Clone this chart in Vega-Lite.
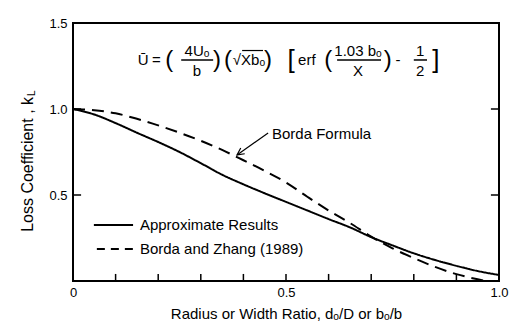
{
  "$schema": "https://vega.github.io/schema/vega-lite/v6.json",
  "width": 426,
  "height": 258,
  "autosize": {"type": "none"},
  "padding": {"left": 73, "top": 23, "right": 21, "bottom": 52},
  "background": "white",
  "data": {"values": [{}]},
  "config": {
    "view": {"stroke": "black", "strokeWidth": 2},
    "font": "Liberation Sans",
    "axis": {"labelColor": "black", "tickColor": "black", "titleColor": "black", "labelFont": "Liberation Sans", "titleFont": "Liberation Sans", "grid": false, "domain": false}
  },
  "resolve": {"axis": {"x": "independent", "y": "independent"}},
  "layer": [
    {
      "data": {"values": [
        {"series": "Approximate Results", "x": 0, "kL": 1.0},
        {"series": "Approximate Results", "x": 0.05, "kL": 0.968},
        {"series": "Approximate Results", "x": 0.1, "kL": 0.918},
        {"series": "Approximate Results", "x": 0.15, "kL": 0.862},
        {"series": "Approximate Results", "x": 0.2, "kL": 0.808},
        {"series": "Approximate Results", "x": 0.25, "kL": 0.75},
        {"series": "Approximate Results", "x": 0.3, "kL": 0.685},
        {"series": "Approximate Results", "x": 0.35, "kL": 0.618},
        {"series": "Approximate Results", "x": 0.4, "kL": 0.562},
        {"series": "Approximate Results", "x": 0.45, "kL": 0.51},
        {"series": "Approximate Results", "x": 0.5, "kL": 0.46},
        {"series": "Approximate Results", "x": 0.55, "kL": 0.41},
        {"series": "Approximate Results", "x": 0.6, "kL": 0.36},
        {"series": "Approximate Results", "x": 0.65, "kL": 0.312},
        {"series": "Approximate Results", "x": 0.7, "kL": 0.255},
        {"series": "Approximate Results", "x": 0.75, "kL": 0.207},
        {"series": "Approximate Results", "x": 0.8, "kL": 0.161},
        {"series": "Approximate Results", "x": 0.85, "kL": 0.122},
        {"series": "Approximate Results", "x": 0.9, "kL": 0.088},
        {"series": "Approximate Results", "x": 0.95, "kL": 0.058},
        {"series": "Approximate Results", "x": 1.0, "kL": 0.035},
        {"series": "Borda and Zhang (1989)", "x": 0, "kL": 1.0},
        {"series": "Borda and Zhang (1989)", "x": 0.05, "kL": 0.993},
        {"series": "Borda and Zhang (1989)", "x": 0.1, "kL": 0.975},
        {"series": "Borda and Zhang (1989)", "x": 0.15, "kL": 0.943},
        {"series": "Borda and Zhang (1989)", "x": 0.2, "kL": 0.905},
        {"series": "Borda and Zhang (1989)", "x": 0.25, "kL": 0.862},
        {"series": "Borda and Zhang (1989)", "x": 0.3, "kL": 0.815},
        {"series": "Borda and Zhang (1989)", "x": 0.35, "kL": 0.762},
        {"series": "Borda and Zhang (1989)", "x": 0.4, "kL": 0.702},
        {"series": "Borda and Zhang (1989)", "x": 0.45, "kL": 0.64},
        {"series": "Borda and Zhang (1989)", "x": 0.5, "kL": 0.573},
        {"series": "Borda and Zhang (1989)", "x": 0.55, "kL": 0.49},
        {"series": "Borda and Zhang (1989)", "x": 0.6, "kL": 0.41},
        {"series": "Borda and Zhang (1989)", "x": 0.65, "kL": 0.337},
        {"series": "Borda and Zhang (1989)", "x": 0.7, "kL": 0.258},
        {"series": "Borda and Zhang (1989)", "x": 0.75, "kL": 0.19},
        {"series": "Borda and Zhang (1989)", "x": 0.8, "kL": 0.133},
        {"series": "Borda and Zhang (1989)", "x": 0.85, "kL": 0.082},
        {"series": "Borda and Zhang (1989)", "x": 0.9, "kL": 0.04},
        {"series": "Borda and Zhang (1989)", "x": 0.95, "kL": 0.01},
        {"series": "Borda and Zhang (1989)", "x": 0.97, "kL": 0.0}
      ]},
      "mark": {"type": "line", "color": "black", "strokeWidth": 2, "clip": true, "interpolate": "monotone"},
      "encoding": {
        "x": {"field": "x", "type": "quantitative", "scale": {"domain": [0, 1], "nice": false},
          "axis": {"orient": "bottom", "values": [0, 0.5, 1.0],
            "labelExpr": "datum.value == 0 ? '0' : format(datum.value, '.1f')",
            "ticks": false, "tickSize": 0, "labelPadding": 5, "labelFontSize": 13, "labelFlush": false,
            "title": "Radius or Width Ratio, dₒ/D or bₒ/b", "titleFontSize": 15, "titleFontWeight": "normal", "titlePadding": 7}},
        "y": {"field": "kL", "type": "quantitative", "scale": {"domain": [0, 1.5], "nice": false},
          "axis": {"orient": "left", "values": [0.5, 1.0, 1.5], "format": ".1f", "ticks": false, "tickSize": 0, "labelPadding": 6, "labelFontSize": 13, "title": null}},
        "strokeDash": {"field": "series", "type": "nominal", "scale": {"domain": ["Approximate Results", "Borda and Zhang (1989)"], "range": [[1, 0], [12, 7]]}, "legend": null}
      }
    },
    {"mark": {"type": "rule", "color": "black", "strokeWidth": 1.5}, "encoding": {"x": {"datum": 0.1, "axis": null}, "y": {"datum": 0, "axis": null}, "y2": {"datum": 0.041}}},
    {"mark": {"type": "rule", "color": "black", "strokeWidth": 1.5}, "encoding": {"x": {"datum": 0.2, "axis": null}, "y": {"datum": 0, "axis": null}, "y2": {"datum": 0.041}}},
    {"mark": {"type": "rule", "color": "black", "strokeWidth": 1.5}, "encoding": {"x": {"datum": 0.3, "axis": null}, "y": {"datum": 0, "axis": null}, "y2": {"datum": 0.041}}},
    {"mark": {"type": "rule", "color": "black", "strokeWidth": 1.5}, "encoding": {"x": {"datum": 0.4, "axis": null}, "y": {"datum": 0, "axis": null}, "y2": {"datum": 0.041}}},
    {"mark": {"type": "rule", "color": "black", "strokeWidth": 1.5}, "encoding": {"x": {"datum": 0.5, "axis": null}, "y": {"datum": 0, "axis": null}, "y2": {"datum": 0.041}}},
    {"mark": {"type": "rule", "color": "black", "strokeWidth": 1.5}, "encoding": {"x": {"datum": 0.6, "axis": null}, "y": {"datum": 0, "axis": null}, "y2": {"datum": 0.041}}},
    {"mark": {"type": "rule", "color": "black", "strokeWidth": 1.5}, "encoding": {"x": {"datum": 0.7, "axis": null}, "y": {"datum": 0, "axis": null}, "y2": {"datum": 0.041}}},
    {"mark": {"type": "rule", "color": "black", "strokeWidth": 1.5}, "encoding": {"x": {"datum": 0.8, "axis": null}, "y": {"datum": 0, "axis": null}, "y2": {"datum": 0.041}}},
    {"mark": {"type": "rule", "color": "black", "strokeWidth": 1.5}, "encoding": {"x": {"datum": 0.9, "axis": null}, "y": {"datum": 0, "axis": null}, "y2": {"datum": 0.041}}},
    {"mark": {"type": "rule", "color": "black", "strokeWidth": 1.5}, "encoding": {"x": {"datum": 0, "axis": null}, "x2": {"datum": 0.019}, "y": {"datum": 0.5, "axis": null}}},
    {"mark": {"type": "rule", "color": "black", "strokeWidth": 1.5}, "encoding": {"x": {"datum": 0, "axis": null}, "x2": {"datum": 0.019}, "y": {"datum": 1.0, "axis": null}}},
    {"mark": {"type": "rule", "color": "black", "strokeWidth": 1.5}, "encoding": {"x": {"datum": 0.981, "axis": null}, "x2": {"datum": 1.0}, "y": {"datum": 0.5, "axis": null}}},
    {"mark": {"type": "rule", "color": "black", "strokeWidth": 1.5}, "encoding": {"x": {"datum": 0.981, "axis": null}, "x2": {"datum": 1.0}, "y": {"datum": 1.0, "axis": null}}},
    {"mark": {"type": "text", "align": "center", "baseline": "middle", "fontSize": 15, "text": "Ū"}, "encoding": {"x": {"datum": 0.165, "axis": null}, "y": {"datum": 1.285, "axis": null}}},
    {"mark": {"type": "text", "align": "center", "baseline": "middle", "fontSize": 15, "text": "="}, "encoding": {"x": {"datum": 0.196, "axis": null}, "y": {"datum": 1.285, "axis": null}}},
    {"mark": {"type": "text", "align": "center", "baseline": "middle", "fontSize": 24, "text": "("}, "encoding": {"x": {"datum": 0.226, "axis": null}, "y": {"datum": 1.285, "axis": null}}},
    {"mark": {"type": "text", "align": "center", "baseline": "middle", "fontSize": 15, "text": "4Uₒ"}, "encoding": {"x": {"datum": 0.291, "axis": null}, "y": {"datum": 1.337, "axis": null}}},
    {"mark": {"type": "rule", "color": "black", "strokeWidth": 1.5}, "encoding": {"x": {"datum": 0.254, "axis": null}, "x2": {"datum": 0.329}, "y": {"datum": 1.285, "axis": null}}},
    {"mark": {"type": "text", "align": "center", "baseline": "middle", "fontSize": 15, "text": "b"}, "encoding": {"x": {"datum": 0.291, "axis": null}, "y": {"datum": 1.221, "axis": null}}},
    {"mark": {"type": "text", "align": "center", "baseline": "middle", "fontSize": 24, "text": ")"}, "encoding": {"x": {"datum": 0.338, "axis": null}, "y": {"datum": 1.285, "axis": null}}},
    {"mark": {"type": "text", "align": "center", "baseline": "middle", "fontSize": 24, "text": "("}, "encoding": {"x": {"datum": 0.364, "axis": null}, "y": {"datum": 1.285, "axis": null}}},
    {"mark": {"type": "text", "align": "center", "baseline": "middle", "fontSize": 15, "text": "√Xbₒ"}, "encoding": {"x": {"datum": 0.413, "axis": null}, "y": {"datum": 1.285, "axis": null}}},
    {"mark": {"type": "rule", "color": "black", "strokeWidth": 1.2}, "encoding": {"x": {"datum": 0.397, "axis": null}, "x2": {"datum": 0.446}, "y": {"datum": 1.34, "axis": null}}},
    {"mark": {"type": "text", "align": "center", "baseline": "middle", "fontSize": 24, "text": ")"}, "encoding": {"x": {"datum": 0.458, "axis": null}, "y": {"datum": 1.285, "axis": null}}},
    {"mark": {"type": "text", "align": "center", "baseline": "middle", "fontSize": 26, "text": "["}, "encoding": {"x": {"datum": 0.512, "axis": null}, "y": {"datum": 1.285, "axis": null}}},
    {"mark": {"type": "text", "align": "center", "baseline": "middle", "fontSize": 15, "text": "erf"}, "encoding": {"x": {"datum": 0.549, "axis": null}, "y": {"datum": 1.285, "axis": null}}},
    {"mark": {"type": "text", "align": "center", "baseline": "middle", "fontSize": 24, "text": "("}, "encoding": {"x": {"datum": 0.599, "axis": null}, "y": {"datum": 1.285, "axis": null}}},
    {"mark": {"type": "text", "align": "center", "baseline": "middle", "fontSize": 15, "text": "1.03 bₒ"}, "encoding": {"x": {"datum": 0.669, "axis": null}, "y": {"datum": 1.337, "axis": null}}},
    {"mark": {"type": "rule", "color": "black", "strokeWidth": 1.5}, "encoding": {"x": {"datum": 0.62, "axis": null}, "x2": {"datum": 0.723}, "y": {"datum": 1.285, "axis": null}}},
    {"mark": {"type": "text", "align": "center", "baseline": "middle", "fontSize": 15, "text": "X"}, "encoding": {"x": {"datum": 0.669, "axis": null}, "y": {"datum": 1.221, "axis": null}}},
    {"mark": {"type": "text", "align": "center", "baseline": "middle", "fontSize": 24, "text": ")"}, "encoding": {"x": {"datum": 0.739, "axis": null}, "y": {"datum": 1.285, "axis": null}}},
    {"mark": {"type": "text", "align": "center", "baseline": "middle", "fontSize": 15, "text": "-"}, "encoding": {"x": {"datum": 0.763, "axis": null}, "y": {"datum": 1.285, "axis": null}}},
    {"mark": {"type": "text", "align": "center", "baseline": "middle", "fontSize": 15, "text": "1"}, "encoding": {"x": {"datum": 0.815, "axis": null}, "y": {"datum": 1.337, "axis": null}}},
    {"mark": {"type": "rule", "color": "black", "strokeWidth": 1.5}, "encoding": {"x": {"datum": 0.8, "axis": null}, "x2": {"datum": 0.831}, "y": {"datum": 1.285, "axis": null}}},
    {"mark": {"type": "text", "align": "center", "baseline": "middle", "fontSize": 15, "text": "2"}, "encoding": {"x": {"datum": 0.815, "axis": null}, "y": {"datum": 1.221, "axis": null}}},
    {"mark": {"type": "text", "align": "center", "baseline": "middle", "fontSize": 26, "text": "]"}, "encoding": {"x": {"datum": 0.852, "axis": null}, "y": {"datum": 1.285, "axis": null}}},
    {"mark": {"type": "text", "align": "left", "baseline": "middle", "fontSize": 15, "text": "Borda Formula"}, "encoding": {"x": {"datum": 0.467, "axis": null}, "y": {"datum": 0.855, "axis": null}}},
    {"mark": {"type": "rule", "color": "black", "strokeWidth": 1.2}, "encoding": {"x": {"datum": 0.458, "axis": null}, "x2": {"datum": 0.385}, "y": {"datum": 0.86, "axis": null}, "y2": {"datum": 0.733}}},
    {"mark": {"type": "point", "shape": "M-0.5,1L0,0L0.5,1", "filled": false, "stroke": "black", "strokeWidth": 1.2, "size": 196, "angle": 235, "opacity": 1}, "encoding": {"x": {"datum": 0.385, "axis": null}, "y": {"datum": 0.733, "axis": null}}},
    {"mark": {"type": "rule", "color": "black", "strokeWidth": 2}, "encoding": {"x": {"datum": 0.049, "axis": null}, "x2": {"datum": 0.141}, "y": {"datum": 0.326, "axis": null}}},
    {"mark": {"type": "rule", "color": "black", "strokeWidth": 2, "strokeDash": [8, 6]}, "encoding": {"x": {"datum": 0.056, "axis": null}, "x2": {"datum": 0.141}, "y": {"datum": 0.186, "axis": null}}},
    {"mark": {"type": "text", "align": "left", "baseline": "middle", "fontSize": 15, "text": "Approximate Results"}, "encoding": {"x": {"datum": 0.157, "axis": null}, "y": {"datum": 0.326, "axis": null}}},
    {"mark": {"type": "text", "align": "left", "baseline": "middle", "fontSize": 15, "text": "Borda and Zhang (1989)"}, "encoding": {"x": {"datum": 0.157, "axis": null}, "y": {"datum": 0.186, "axis": null}}},
    {"mark": {"type": "text", "align": "right", "baseline": "middle", "fontSize": 16, "angle": 270, "text": "Loss Coefficient ,  k"}, "encoding": {"x": {"datum": -0.106, "axis": null}, "y": {"datum": 1.07, "axis": null}}},
    {"mark": {"type": "text", "align": "left", "baseline": "middle", "fontSize": 10, "angle": 270, "text": "L"}, "encoding": {"x": {"datum": -0.097, "axis": null}, "y": {"datum": 1.076, "axis": null}}}
  ]
}
